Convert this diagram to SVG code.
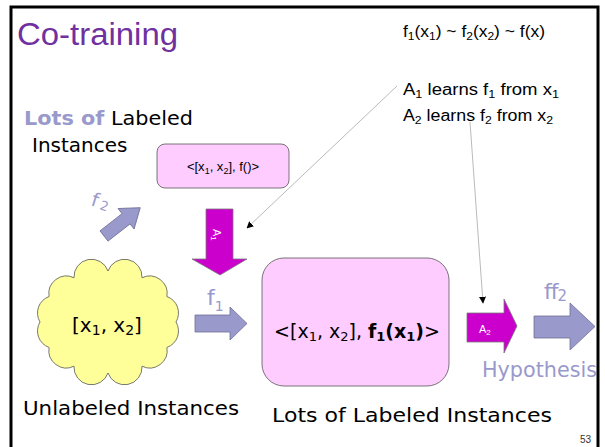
<svg xmlns="http://www.w3.org/2000/svg" width="605" height="447" viewBox="0 0 605 447">
<defs>
<style>
.cal{font-family:"Liberation Sans","Open Sans",Arial,sans-serif;fill:#000}
.com{font-family:"DejaVu Sans","Liberation Sans",sans-serif;fill:#000}
.lp{fill:#9999CC}
.lpa{fill:#9999CC;stroke:#6E6E96;stroke-width:0.8}
.mag{fill:#CC00CC;stroke:#7A7A7A;stroke-width:0.8}
.conn{fill:none;stroke:#A8A8A8;stroke-width:0.8;marker-end:url(#ah)}
</style>
<marker id="ah" viewBox="0 0 10 10" refX="9" refY="5" markerWidth="7" markerHeight="7" markerUnits="userSpaceOnUse" orient="auto">
<path d="M0,0 L10,5 L0,10 z" fill="#000"/>
</marker>
</defs>
<rect width="605" height="447" fill="#fff"/>

<g id="title">
<text x="17" y="45" font-family="Liberation Sans, Open Sans, sans-serif" font-size="31" fill="#7030A0" textLength="161" lengthAdjust="spacingAndGlyphs">Co-training</text>
</g>

<g id="notes">
<text class="cal" x="403" y="37" font-size="16" textLength="142" lengthAdjust="spacingAndGlyphs">f<tspan font-size="11" dy="3">1</tspan><tspan dy="-3">(x</tspan><tspan font-size="11" dy="3">1</tspan><tspan dy="-3">) ~ f</tspan><tspan font-size="11" dy="3">2</tspan><tspan dy="-3">(x</tspan><tspan font-size="11" dy="3">2</tspan><tspan dy="-3">) ~ f(x)</tspan></text>
<text class="cal" x="403" y="95" font-size="16" textLength="156" lengthAdjust="spacingAndGlyphs">A<tspan font-size="11" dy="3">1</tspan><tspan dy="-3"> learns f</tspan><tspan font-size="11" dy="3">1</tspan><tspan dy="-3">  from x</tspan><tspan font-size="11" dy="3">1</tspan></text>
<text class="cal" x="403" y="121" font-size="16" textLength="150" lengthAdjust="spacingAndGlyphs">A<tspan font-size="11" dy="3">2</tspan><tspan dy="-3"> learns f</tspan><tspan font-size="11" dy="3">2</tspan><tspan dy="-3"> from x</tspan><tspan font-size="11" dy="3">2</tspan></text>
</g>

<g id="labeled-seed">
<text class="com" x="24" y="125" font-size="20" textLength="169" lengthAdjust="spacingAndGlyphs"><tspan class="lp" font-weight="bold">Lots of</tspan> Labeled</text>
<text class="com" x="32" y="152" font-size="20">Instances</text>
</g>

<g id="seed-box">
<rect x="157" y="144" width="132" height="44" rx="8" fill="#FFCCFF" stroke="#555" stroke-width="0.8"/>
<text class="cal" x="223" y="171" font-size="13" text-anchor="middle">&lt;[x<tspan font-size="9" dy="3">1</tspan><tspan dy="-3">, x</tspan><tspan font-size="9" dy="3">2</tspan><tspan dy="-3">], f()&gt;</tspan></text>
</g>

<g id="f2-up-arrow">
<polygon class="lpa" transform="translate(104,236) rotate(-38)" points="0,-6.5 28,-6.5 28,-13 46,0 28,13 28,6.5 0,6.5"/>
<text class="com lp" transform="translate(90,205) rotate(18)" font-size="19">f<tspan font-size="13" dy="1" dx="3">2</tspan></text>
</g>

<g id="a1-arrow">
<polygon class="mag" points="206,209 233,209 233,259 247,259 220,275 192,259 206,259"/>
<text transform="translate(213,229) rotate(90)" font-family="Liberation Sans, sans-serif" font-size="11" fill="#fff">A<tspan font-size="8" dy="2">1</tspan></text>
</g>

<g id="unlabeled">
<path d="M176,322 A17.5,17.5 0 0 1 166.9,347.5 A17.5,17.5 0 0 1 142,366.2 A17.5,17.5 0 0 1 108,373 A17.5,17.5 0 0 1 74,366.2 A17.5,17.5 0 0 1 49.1,347.5 A17.5,17.5 0 0 1 40,322 A17.5,17.5 0 0 1 49.1,296.5 A17.5,17.5 0 0 1 74,277.8 A17.5,17.5 0 0 1 108,271 A17.5,17.5 0 0 1 142,277.8 A17.5,17.5 0 0 1 166.9,296.5 A17.5,17.5 0 0 1 176,322 Z" fill="#FFFF99" stroke="#555" stroke-width="0.8"/>
<text class="com" x="107" y="332" font-size="20" text-anchor="middle">[x<tspan font-size="14" dy="3">1</tspan><tspan dy="-3">, x</tspan><tspan font-size="14" dy="3">2</tspan><tspan dy="-3">]</tspan></text>
<text class="com" x="23" y="415" font-size="20" textLength="216" lengthAdjust="spacingAndGlyphs">Unlabeled Instances</text>
</g>

<g id="f1-arrow">
<polygon class="lpa" points="195,315 230,315 230,307 247,323.5 230,340 230,332 195,332"/>
<text class="com lp" x="207" y="305" font-size="22">f<tspan font-size="14" dy="6">1</tspan></text>
</g>

<g id="labeled-box">
<rect x="262" y="258" width="187" height="128" rx="22" fill="#FFCCFF" stroke="#555" stroke-width="0.8"/>
<text class="com" x="357" y="338" font-size="19" text-anchor="middle">&lt;[x<tspan font-size="13" dy="3">1</tspan><tspan dy="-3">, x</tspan><tspan font-size="13" dy="3">2</tspan><tspan dy="-3">], </tspan><tspan font-weight="bold">f</tspan><tspan font-weight="bold" font-size="13" dy="3">1</tspan><tspan font-weight="bold" dy="-3">(x</tspan><tspan font-weight="bold" font-size="13" dy="3">1</tspan><tspan font-weight="bold" dy="-3">)</tspan>&gt;</text>
<text class="com" x="272" y="422" font-size="20" textLength="280" lengthAdjust="spacingAndGlyphs">Lots of Labeled Instances</text>
</g>

<g id="a2-arrow">
<polygon class="mag" points="467,313 504,313 504,299 517,326 504,353 504,342 467,342"/>
<text x="479" y="333" font-family="Liberation Sans, sans-serif" font-size="11" fill="#fff">A<tspan font-size="8" dy="2">2</tspan></text>
</g>

<g id="hypothesis">
<polygon class="lpa" points="534,316 570,316 570,303 595,326.5 570,350 570,338 534,338"/>
<text class="com lp" x="544" y="299" font-size="22" letter-spacing="-1">ff<tspan font-size="15" dy="2" letter-spacing="0">2</tspan></text>
<text class="com lp" x="482" y="377" font-size="21" textLength="115" lengthAdjust="spacingAndGlyphs">Hypothesis</text>
</g>

<g id="connectors">
<path class="conn" d="M397,86 L247,228"/>
<path class="conn" d="M470,122 L483,303"/>
</g>

<g id="frame">
<path d="M11,447 V7 H598 V447" fill="none" stroke="#000" stroke-width="3"/>
<text x="591" y="443" font-family="Liberation Sans, sans-serif" font-size="10" fill="#333" text-anchor="end">53</text>
</g>
</svg>
